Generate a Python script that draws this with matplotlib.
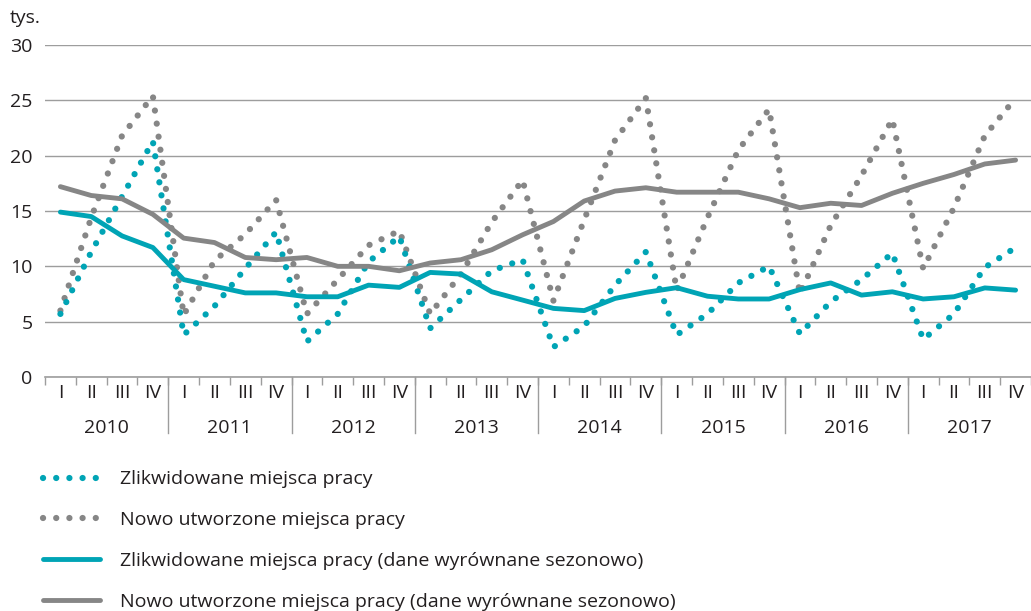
import numpy as np
import matplotlib
matplotlib.use("Agg")
import matplotlib.pyplot as plt
import matplotlib.transforms as mtransforms

plt.rcParams['font.family'] = ['Open Sans', 'DejaVu Sans']

years = ['2010', '2011', '2012', '2013', '2014', '2015', '2016', '2017']
quarters = ['I', 'II', 'III', 'IV']

# tys. miejsc pracy, kwartalnie 2010 I - 2017 IV
zlikwidowane = [5.7, 11.3, 16.3, 21.3,
                3.8, 6.4, 9.8, 13.1,
                3.2, 5.7, 10.4, 12.7,
                4.4, 7.0, 9.6, 10.6,
                2.7, 4.6, 8.3, 11.3,
                3.8, 5.7, 8.5, 10.0,
                3.9, 6.8, 8.8, 11.2,
                3.4, 5.7, 9.9, 11.7]
nowo = [6.0, 14.4, 21.8, 25.4,
        5.6, 10.5, 12.9, 16.0,
        5.7, 8.8, 11.9, 13.2,
        5.7, 9.3, 14.0, 17.8,
        6.9, 14.2, 21.4, 25.2,
        7.8, 14.4, 20.5, 24.2,
        7.5, 13.7, 18.2, 23.3,
        9.8, 15.3, 21.8, 25.2]
zlikwidowane_sa = [14.9, 14.5, 12.75, 11.7,
                   8.8, 8.2, 7.6, 7.6,
                   7.25, 7.25, 8.3, 8.1,
                   9.45, 9.3, 7.7, 6.95,
                   6.2, 6.0, 7.1, 7.65,
                   8.07, 7.3, 7.05, 7.05,
                   7.9, 8.5, 7.4, 7.7,
                   7.05, 7.25, 8.05, 7.85]
nowo_sa = [17.2, 16.4, 16.1, 14.7,
           12.55, 12.15, 10.8, 10.6,
           10.8, 10.0, 10.0, 9.6,
           10.3, 10.6, 11.5, 12.85,
           14.05, 15.9, 16.8, 17.1,
           16.7, 16.7, 16.7, 16.1,
           15.3, 15.7, 15.5, 16.6,
           17.5, 18.3, 19.25, 19.6]

teal = '#00a4b5'
grey = '#868686'
txt = '#231f20'

fig = plt.figure(figsize=(10.31, 6.11), dpi=100)
ax = fig.add_axes([45 / 1031, (611 - 377) / 611, (1031 - 45) / 1031, 332 / 611])

x = np.arange(len(nowo))
dots = (0, (0.01, 2.1))
ax.plot(x, nowo, color=grey, lw=4.5, linestyle=dots, dash_capstyle='round',
        label='Nowo utworzone miejsca pracy', zorder=3)
ax.plot(x, zlikwidowane, color=teal, lw=4.5, linestyle=dots, dash_capstyle='round',
        label='Zlikwidowane miejsca pracy', zorder=4)
ax.plot(x, nowo_sa, color=grey, lw=3.5, solid_capstyle='round',
        label='Nowo utworzone miejsca pracy (dane wyrównane sezonowo)', zorder=5)
ax.plot(x, zlikwidowane_sa, color=teal, lw=3.5, solid_capstyle='round',
        label='Zlikwidowane miejsca pracy (dane wyrównane sezonowo)', zorder=6)

ax.set_xlim(-0.5, len(x) - 0.5)
ax.set_ylim(0, 30)
ax.set_yticks(range(0, 31, 5))
ax.tick_params(axis='y', length=0, pad=9, labelsize=14, labelcolor=txt)
ax.grid(axis='y', color='#9d9d9d', lw=1)
ax.set_axisbelow(True)
for s in ['top', 'right', 'left']:
    ax.spines[s].set_visible(False)
ax.spines['bottom'].set_color('#9d9d9d')
ax.spines['bottom'].set_linewidth(1.2)

# podzialka osi x
ax.set_xticks(np.arange(-0.5, len(x), 1))
ax.set_xticklabels([])
ax.tick_params(axis='x', length=6, width=1, color='#9d9d9d')
trans = mtransforms.blended_transform_factory(ax.transData, ax.transAxes)
for k in range(1, len(years)):
    ax.plot([4 * k - 0.5, 4 * k - 0.5], [0, -0.17], color='#9d9d9d', lw=1,
            transform=trans, clip_on=False)
for i in range(len(x)):
    ax.text(i, -0.047, quarters[i % 4], transform=trans, ha='center', va='center',
            fontsize=14, color=txt)
for k, yr in enumerate(years):
    ax.text(4 * k + 1.5, -0.155, yr, transform=trans, ha='center', va='center',
            fontsize=14, color=txt)

fig.text(10 / 1031, 1 - 18 / 611, 'tys.', ha='left', va='center', fontsize=14, color=txt)

h, l = ax.get_legend_handles_labels()
order = [1, 0, 3, 2]
fig.legend([h[i] for i in order], [l[i] for i in order], loc='upper left',
           bbox_to_anchor=(25 / 1031, 1 - 453 / 611), frameon=False, fontsize=14,
           handlelength=2.95, handletextpad=1.05, labelspacing=1.17, labelcolor=txt)

fig.savefig('out.png', dpi=100)
